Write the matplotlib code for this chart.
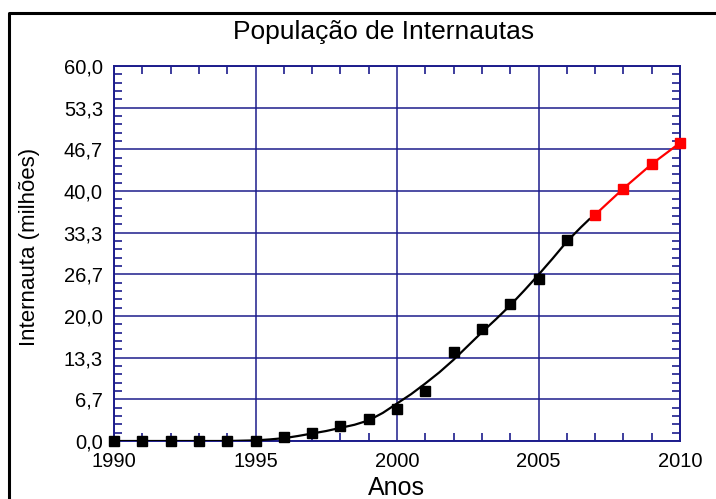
import matplotlib
matplotlib.use('Agg')
import matplotlib.pyplot as plt
from matplotlib.lines import Line2D
from matplotlib.ticker import MultipleLocator

plt.rcParams['font.family'] = ['Liberation Sans', 'DejaVu Sans']

# measured points
anos = [1990, 1991, 1992, 1993, 1994, 1995, 1996, 1997, 1998, 1999, 2000,
        2001, 2002, 2003, 2004, 2005, 2006]
internautas = [0.0, 0.0, 0.0, 0.0, 0.0, 0.0, 0.7, 1.3, 2.4, 3.6, 5.1,
               8.0, 14.3, 18.0, 22.0, 26.0, 32.1]

# projection (red)
anos_proj = [2007, 2008, 2009, 2010]
internautas_proj = [36.2, 40.4, 44.3, 47.7]

# fitted curve
anos_curva = [1990, 1991, 1992, 1993, 1994, 1994.5, 1995, 1995.5, 1996, 1996.5,
              1997, 1997.5, 1998, 1998.5, 1999, 1999.5, 2000, 2000.5, 2001,
              2001.5, 2002, 2002.5, 2003, 2003.5, 2004, 2004.5, 2005, 2005.5,
              2006, 2006.5, 2006.8]
valores_curva = [0.0, 0.0, 0.0, 0.0, 0.0, 0.05, 0.1, 0.25, 0.45, 0.8,
                 1.2, 1.6, 2.1, 2.6, 3.3, 4.5, 6.0, 7.5, 9.2,
                 11.0, 13.0, 15.2, 17.4, 19.5, 21.7, 24.1, 26.6, 29.2,
                 31.9, 34.2, 35.5]

ytick_labels = ['0,0', '6,7', '13,3', '20,0', '26,7', '33,3', '40,0', '46,7', '53,3', '60,0']

navy = '#1c1c8c'

fig = plt.figure(figsize=(7.16, 4.99), dpi=100)
ax = fig.add_axes([114/716, 1 - 441/499, 566/716, 375/499])

ax.plot(anos_curva, valores_curva, color='black', lw=1.6, zorder=3)
ax.plot(anos, internautas, 's', color='black', ms=6.5, zorder=4, clip_on=False)
ax.plot(anos_proj, internautas_proj, 's-', color='#ff0000', lw=1.6, ms=6.5, zorder=4, clip_on=False)

ax.set_xlim(1990, 2010)
ax.set_ylim(0, 60)
ax.set_xticks([1990, 1995, 2000, 2005, 2010])
ax.xaxis.set_minor_locator(MultipleLocator(1))
ax.set_yticks([i * 60 / 9 for i in range(10)])
ax.set_yticklabels(ytick_labels)
ax.yaxis.set_minor_locator(MultipleLocator(60 / 45))

ax.grid(True, which='major', color=navy, lw=1.1)
ax.set_axisbelow(True)
for s in ax.spines.values():
    s.set_color(navy)
    s.set_linewidth(1.4)

ax.tick_params(which='both', direction='in', top=True, right=True, color=navy,
               labelsize=14.5, labelcolor='black')
ax.tick_params(which='major', length=0, pad=8)
ax.tick_params(which='minor', length=6, width=1.2)

fig.text(384/716, 1 - 32/499, 'População de Internautas', ha='center', va='center', fontsize=19)
fig.text(396/716, 1 - 488/499, 'Anos', ha='center', va='center', fontsize=18)
fig.text(30/716, 1 - 247/499, 'Internauta (milhões)', ha='center', va='center',
         rotation=90, fontsize=16)

# frame around the figure (cut at right and bottom)
fig.add_artist(Line2D([8.5/716, 8.5/716, 1.0], [0.0, 1 - 13/499, 1 - 13/499],
                      transform=fig.transFigure, color='black', lw=2.2))

fig.savefig('out.png', dpi=100)
